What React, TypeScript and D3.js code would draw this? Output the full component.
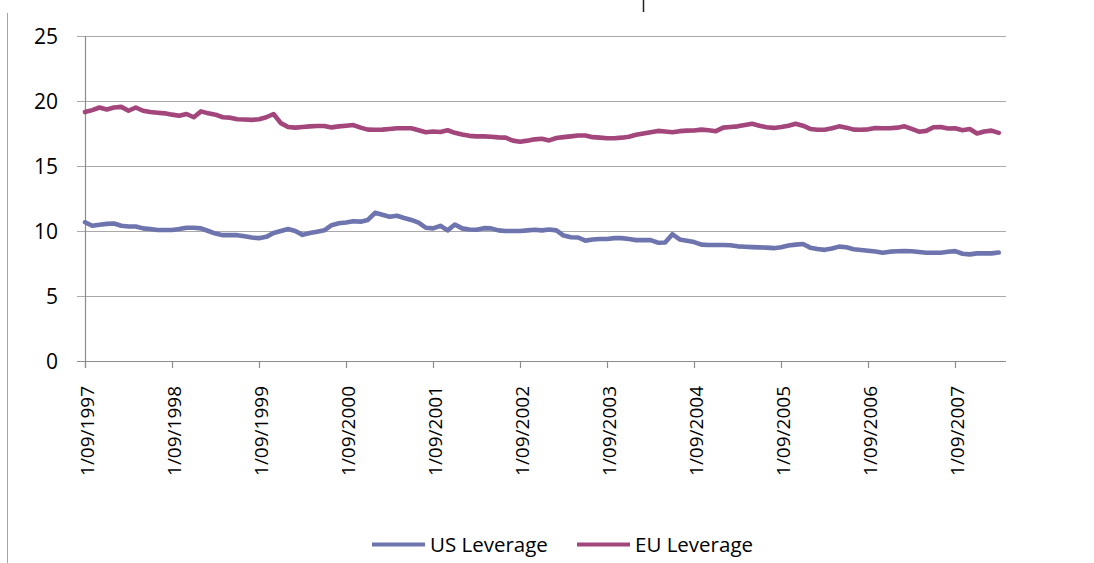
import React from "react";
import * as d3 from "d3";

// month index 0 = Sep 1997
const yearLabels = [
  "1/09/1997", "1/09/1998", "1/09/1999", "1/09/2000", "1/09/2001", "1/09/2002",
  "1/09/2003", "1/09/2004", "1/09/2005", "1/09/2006", "1/09/2007",
];

const usLeverage = [
  10.67, 10.4, 10.48, 10.55, 10.58, 10.4, 10.35, 10.35, 10.2, 10.15, 10.08, 10.08,
  10.08, 10.15, 10.25, 10.25, 10.2, 10.0, 9.8, 9.68, 9.68, 9.68, 9.6, 9.5,
  9.45, 9.55, 9.85, 10.0, 10.15, 10.0, 9.7, 9.85, 9.95, 10.05, 10.45, 10.59,
  10.65, 10.75, 10.72, 10.85, 11.4, 11.25, 11.1, 11.17, 11.0, 10.85, 10.65, 10.25,
  10.2, 10.4, 10.05, 10.5, 10.2, 10.12, 10.1, 10.22, 10.2, 10.05, 10.0, 10.0,
  10.0, 10.05, 10.1, 10.05, 10.12, 10.05, 9.65, 9.52, 9.5, 9.26, 9.35, 9.38,
  9.38, 9.45, 9.45, 9.38, 9.3, 9.3, 9.3, 9.1, 9.12, 9.75, 9.35, 9.25,
  9.15, 8.95, 8.92, 8.92, 8.92, 8.9, 8.82, 8.79, 8.76, 8.74, 8.72, 8.68,
  8.75, 8.88, 8.95, 9.0, 8.72, 8.62, 8.55, 8.65, 8.8, 8.75, 8.6, 8.54,
  8.48, 8.42, 8.33, 8.41, 8.44, 8.46, 8.44, 8.38, 8.33, 8.33, 8.33, 8.4,
  8.45, 8.25, 8.2, 8.28, 8.28, 8.28, 8.35,
];

const euLeverage = [
  19.15, 19.3, 19.5, 19.35, 19.5, 19.55, 19.25, 19.5, 19.25, 19.15, 19.1, 19.05,
  18.95, 18.87, 19.0, 18.75, 19.2, 19.05, 18.95, 18.75, 18.72, 18.6, 18.58, 18.55,
  18.6, 18.75, 19.0, 18.3, 18.0, 17.95, 18.0, 18.05, 18.08, 18.08, 17.97, 18.05,
  18.1, 18.15, 17.95, 17.8, 17.79, 17.8, 17.85, 17.9, 17.9, 17.9, 17.75, 17.6,
  17.65, 17.62, 17.75, 17.55, 17.42, 17.32, 17.28, 17.28, 17.25, 17.2, 17.18, 16.95,
  16.87, 16.95, 17.05, 17.1, 16.97, 17.15, 17.22, 17.28, 17.35, 17.35, 17.22, 17.18,
  17.13, 17.13, 17.18, 17.25, 17.4, 17.5, 17.6, 17.7, 17.65, 17.6, 17.68, 17.72,
  17.73, 17.8, 17.75, 17.68, 17.95, 18.0, 18.05, 18.15, 18.25, 18.1, 17.98, 17.93,
  18.0, 18.1, 18.25, 18.1, 17.85, 17.79, 17.79, 17.9, 18.05, 17.95, 17.8, 17.79,
  17.82, 17.92, 17.9, 17.9, 17.95, 18.05, 17.85, 17.64, 17.7, 17.98, 18.0, 17.88,
  17.9, 17.75, 17.85, 17.5, 17.65, 17.72, 17.55,
];

const yTicks = [0, 5, 10, 15, 20, 25];
const seriesNames = ["US Leverage", "EU Leverage"];
const seriesColors = ["#6E75AE", "#A3467C"];

export default function App() {
  const svgRef = React.useRef<SVGSVGElement>(null);

  React.useEffect(() => {
    const svg = d3.select(svgRef.current);
    svg.selectAll("*").remove();

    const font = "'Open Sans', 'Liberation Sans', sans-serif";
    const x = d3.scaleLinear().domain([0, 127]).range([85, 1006]);
    const y = d3.scaleLinear().domain([0, 25]).range([361, 36]);

    // outer frame bits
    svg.append("line").attr("x1", 7.5).attr("x2", 7.5).attr("y1", 13).attr("y2", 563)
      .attr("stroke", "#a6a6a6").attr("stroke-width", 1);
    svg.append("line").attr("x1", 643.5).attr("x2", 643.5).attr("y1", 0).attr("y2", 12)
      .attr("stroke", "#222").attr("stroke-width", 1.5);

    // horizontal grid + y labels
    const yg = svg.append("g");
    yg.selectAll("line").data(yTicks).enter().append("line")
      .attr("x1", 77).attr("x2", x(127))
      .attr("y1", (d) => Math.round(y(d)) + 0.5).attr("y2", (d) => Math.round(y(d)) + 0.5)
      .attr("stroke", (d) => (d === 0 ? "#8c8c8c" : "#a9a9a9")).attr("stroke-width", 1.2);
    yg.selectAll("text").data(yTicks).enter().append("text")
      .attr("x", 58).attr("y", (d) => y(d)).attr("dy", "0.36em")
      .attr("text-anchor", "end").attr("font-family", font).attr("font-size", 21)
      .attr("fill", "#000").text((d) => d);

    // y axis line
    svg.append("line").attr("x1", 85.5).attr("x2", 85.5).attr("y1", y(25)).attr("y2", y(0) + 7)
      .attr("stroke", "#8c8c8c").attr("stroke-width", 1.2);

    // x ticks + labels
    const xg = svg.append("g");
    const months = yearLabels.map((_, i) => i * 12);
    xg.selectAll("line").data(months).enter().append("line")
      .attr("x1", (d) => Math.round(x(d)) + 0.5).attr("x2", (d) => Math.round(x(d)) + 0.5)
      .attr("y1", y(0)).attr("y2", y(0) + 7)
      .attr("stroke", "#8c8c8c").attr("stroke-width", 1.2);
    xg.selectAll("text").data(yearLabels).enter().append("text")
      .attr("transform", (_, i) => `translate(${x(months[i]) + 9},386) rotate(-90)`)
      .attr("text-anchor", "end").attr("font-family", font).attr("font-size", 19)
      .attr("fill", "#000").text((d) => d);

    // lines
    const line = d3.line<number>().x((_, i) => x(i)).y((d) => y(d));
    [usLeverage, euLeverage].forEach((s, k) => {
      svg.append("path").datum(s).attr("d", line).attr("fill", "none")
        .attr("stroke", seriesColors[k]).attr("stroke-width", 4.6)
        .attr("stroke-linejoin", "round").attr("stroke-linecap", "round");
    });

    // legend
    const legendX = [372, 577];
    seriesNames.forEach((name, k) => {
      svg.append("line").attr("x1", legendX[k]).attr("x2", legendX[k] + 53)
        .attr("y1", 544.5).attr("y2", 544.5)
        .attr("stroke", seriesColors[k]).attr("stroke-width", 3.8);
      svg.append("text").attr("x", legendX[k] + 58).attr("y", 552)
        .attr("font-family", font).attr("font-size", 20.5).attr("fill", "#000").text(name);
    });
  }, []);

  return (
    <svg
      ref={svgRef}
      width={1094}
      height={563}
      style={{ position: "absolute", left: 0, top: 0, background: "#fff" }}
    />
  );
}
